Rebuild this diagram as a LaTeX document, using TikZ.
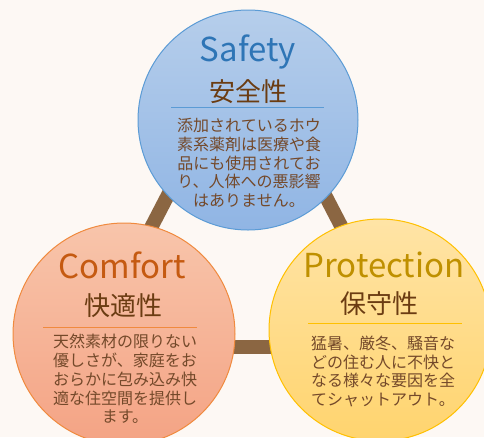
\documentclass[tikz,border=0pt]{standalone}
\usepackage{fontspec}
\setmainfont{Noto Sans CJK JP}
\usetikzlibrary{shadings}
\definecolor{bgc}{HTML}{FDF8F4}
\definecolor{linkc}{HTML}{8B6642}
\definecolor{txtc}{HTML}{74492A}
\definecolor{jpc}{HTML}{6B3C12}
\definecolor{sTop}{HTML}{B6CEEB}
\definecolor{sBot}{HTML}{90B5E4}
\definecolor{sLine}{HTML}{5B9BD5}
\definecolor{sTitle}{HTML}{2E75B6}
\definecolor{cTop}{HTML}{F8C5AB}
\definecolor{cBot}{HTML}{F4A384}
\definecolor{cLine}{HTML}{F08A3E}
\definecolor{cTitle}{HTML}{C55A11}
\definecolor{pTop}{HTML}{FFE4A6}
\definecolor{pBot}{HTML}{FFD46E}
\definecolor{pLine}{HTML}{FFC000}
\definecolor{pTitle}{HTML}{BF9000}
\tikzset{
  bubble/.style={circle, inner sep=0pt, minimum size=#1, line width=1pt},
  link/.style={draw=linkc, line width=14pt},
  entitle/.style={anchor=base, inner sep=0pt, font=\fontsize{33}{36}\selectfont},
  jptitle/.style={anchor=base, inner sep=0pt, text=jpc, font=\fontsize{26}{28}\selectfont},
  body/.style={inner sep=0pt, align=center, text=txtc, font=\fontsize{16}{18.8}\selectfont},
  divider/.style={line width=1pt}
}
\begin{document}
\begin{tikzpicture}[x=1pt,y=-1pt]
\useasboundingbox (0,0) rectangle (484,437);
\clip (0,0) rectangle (484,437);
\fill[bgc] (0,0) rectangle (484,437);
% triangle corners (hidden under circles)
\coordinate (ta) at (246.5,44);
\coordinate (tl) at (89,347);
\coordinate (tr) at (404,347);
\draw[link] (ta) -- (tl);
\draw[link] (ta) -- (tr);
\draw[link] (tl) -- (tr);
% circles
\node[bubble=220pt, draw=sLine, top color=sTop, bottom color=sBot] (safety) at (248,120) {};
\node[bubble=222pt, draw=cLine, top color=cTop, bottom color=cBot] (comfort) at (124,334) {};
\node[bubble=222pt, draw=pLine, top color=pTop, bottom color=pBot] (protection) at (380,330) {};
% Safety
\node[entitle, text=sTitle] (sEn) at (248,61) {Safety};
\node[jptitle] (sJp) at (248,101) {安全性};
\draw[divider, draw=sLine] (171,107) -- (324,107);
\node[body] (sBody) at (249,163) {添加されているホウ\\素系薬剤は医療や食\\品にも使用されてお\\り、人体への悪影響\\はありません。};
% Comfort
\node[entitle, text=cTitle] (cEn) at (122,278) {Comfort};
\node[jptitle] (cJp) at (123,315) {快適性};
\draw[divider, draw=cLine] (43,327) -- (197,327);
\node[body] (cBody) at (125,379) {天然素材の限りない\\優しさが、家庭をお\\おらかに包み込み快\\適な住空間を提供し\\ます。};
% Protection
\node[entitle, text=pTitle] (pEn) at (384,277) {Protection};
\node[jptitle] (pJp) at (379,313) {保守性};
\draw[divider, draw=pLine] (308,323) -- (462,323);
\node[body] (pBody) at (383,371.5) {猛暑、厳冬、騒音な\\どの住む人に不快と\\なる様々な要因を全\\てシャットアウト。};
\end{tikzpicture}
\end{document}
